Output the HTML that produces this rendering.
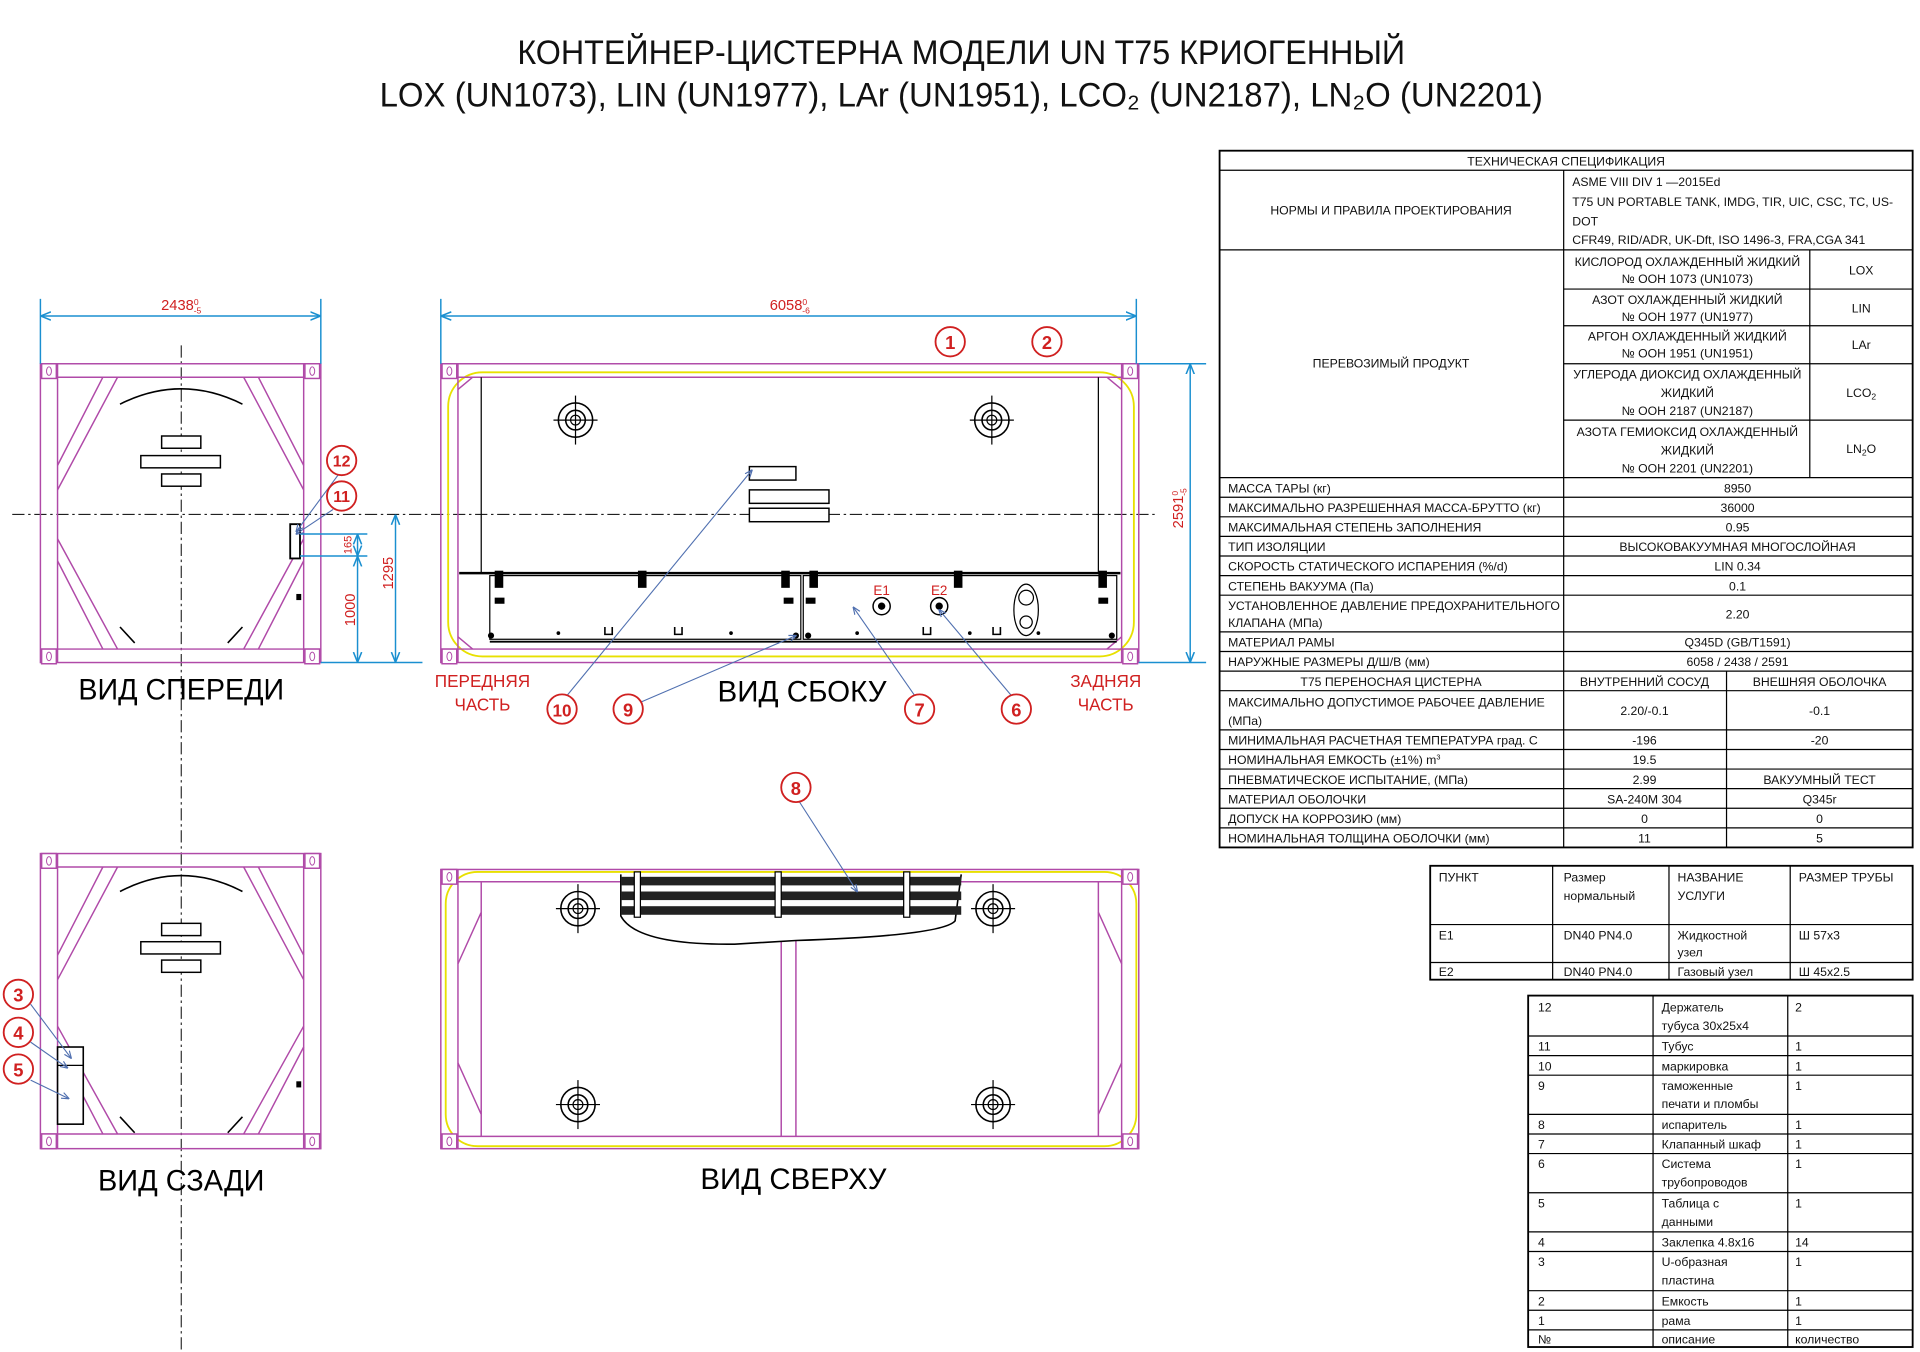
<!DOCTYPE html>
<html><head><meta charset="utf-8"><style>
html,body{margin:0;padding:0;background:#fff;}
svg{display:block;}
text{font-family:"Liberation Sans",sans-serif;}
</style></head><body>
<svg width="1920" height="1352" viewBox="0 0 1568 1104" xmlns="http://www.w3.org/2000/svg">
<defs>
<marker id="ab" viewBox="0 0 10 10" refX="9" refY="5" markerWidth="7" markerHeight="7" orient="auto-start-reverse"><path d="M0,1 L10,5 L0,9" fill="none" stroke="#1a8fd0" stroke-width="1.5"/></marker>
<marker id="ac" viewBox="0 0 10 10" refX="9" refY="5" markerWidth="7" markerHeight="7" orient="auto"><path d="M0,1 L10,5 L0,9" fill="none" stroke="#5070b0" stroke-width="1.5"/></marker>
<g id="corner"><rect x="-6" y="-6" width="12" height="12" fill="#fff" stroke="#b04aa8" stroke-width="1.2"/><ellipse cx="0" cy="0" rx="2" ry="3.5" fill="none" stroke="#b04aa8" stroke-width="0.8"/></g>
<g id="lift"><circle r="14" fill="none" stroke="#000" stroke-width="1.3"/><circle r="8" fill="none" stroke="#000" stroke-width="1.3"/><circle r="4" fill="none" stroke="#000"/><line x1="-18" y1="0" x2="18" y2="0" stroke="#000"/><line x1="0" y1="-20" x2="0" y2="20" stroke="#000"/></g>
<g id="cl"><circle r="12" fill="#fff" stroke="#d02020" stroke-width="1.5"/></g>
</defs>

<!-- Title -->
<text x="785" y="52" font-size="28" text-anchor="middle" textLength="725" lengthAdjust="spacingAndGlyphs" fill="#111">КОНТЕЙНЕР-ЦИСТЕРНА МОДЕЛИ UN T75 КРИОГЕННЫЙ</text>
<text x="785" y="87" font-size="28" text-anchor="middle" textLength="950" lengthAdjust="spacingAndGlyphs" fill="#111">LOX (UN1073), LIN (UN1977), LAr (UN1951), LCO₂ (UN2187), LN₂O (UN2201)</text>

<!-- center lines -->
<line x1="10" y1="420" x2="945" y2="420" stroke="#000" stroke-width="0.8" stroke-dasharray="10,3,2,3"/>
<line x1="148" y1="282" x2="148" y2="1104" stroke="#000" stroke-width="0.8" stroke-dasharray="10,3,2,3"/>

<!-- FRONT VIEW -->
<g stroke="#b04aa8" fill="none" stroke-width="1.2">
<rect x="33" y="297" width="229" height="244"/>
<line x1="33" y1="308" x2="262" y2="308"/><line x1="33" y1="530" x2="262" y2="530"/>
<line x1="47" y1="297" x2="47" y2="541"/><line x1="248" y1="297" x2="248" y2="541"/>
<path d="M47,380 L84,308 M47,400 L96,308 M248,380 L211,308 M248,400 L199,308"/>
<path d="M47,458 L84,530 M47,440 L96,530 M248,458 L211,530 M248,440 L199,530"/>
</g>
<path d="M98,330 Q148,305 198,330" stroke="#000" fill="none" stroke-width="1.3"/>
<path d="M98,512 L110,525 M198,512 L186,525" stroke="#000" fill="none" stroke-width="1.3"/>
<g stroke="#000" fill="#fff" stroke-width="1.2"><rect x="132" y="356" width="32" height="10"/><rect x="115" y="372" width="65" height="10"/><rect x="132" y="387" width="32" height="10"/></g>
<rect x="237" y="428" width="8" height="28" fill="#fff" stroke="#000" stroke-width="1.5"/>
<rect x="242" y="485" width="4" height="5" fill="#000"/>
<use href="#corner" x="40" y="303"/><use href="#corner" x="255" y="303"/><use href="#corner" x="40" y="536"/><use href="#corner" x="255" y="536"/>
<!-- front dims -->
<g stroke="#1a8fd0" stroke-width="1.2" fill="none">
<line x1="33" y1="244" x2="33" y2="297"/><line x1="262" y1="244" x2="262" y2="297"/>
<line x1="34" y1="258" x2="261" y2="258" marker-start="url(#ab)" marker-end="url(#ab)"/>
<line x1="245" y1="436" x2="300" y2="436"/><line x1="245" y1="454" x2="300" y2="454"/><line x1="262" y1="541" x2="345" y2="541"/>
<line x1="292" y1="437" x2="292" y2="453" marker-start="url(#ab)" marker-end="url(#ab)"/>
<line x1="292" y1="455" x2="292" y2="540" marker-start="url(#ab)" marker-end="url(#ab)"/>
<line x1="323" y1="421" x2="323" y2="540" marker-start="url(#ab)" marker-end="url(#ab)"/>
</g>
<text x="148" y="253" font-size="12" fill="#d02020" text-anchor="middle">2438<tspan font-size="7" dy="-4">0</tspan><tspan font-size="7" dx="-4" dy="7">-5</tspan></text>
<text transform="translate(287,445) rotate(-90)" font-size="9" fill="#d02020" text-anchor="middle">165</text>
<text transform="translate(290,498) rotate(-90)" font-size="12" fill="#d02020" text-anchor="middle">1000</text>
<text transform="translate(321,468) rotate(-90)" font-size="12" fill="#d02020" text-anchor="middle">1295</text>
<text x="148" y="571" font-size="24" text-anchor="middle" textLength="168" lengthAdjust="spacingAndGlyphs">ВИД СПЕРЕДИ</text>
<g stroke="#5070b0" stroke-width="0.9" fill="none"><line x1="276" y1="388" x2="242" y2="434" marker-end="url(#ac)"/><line x1="272" y1="416" x2="242" y2="436" marker-end="url(#ac)"/></g>
<use href="#cl" x="279" y="376"/><text x="279" y="381" font-size="13" font-weight="bold" fill="#d02020" text-anchor="middle">12</text>
<use href="#cl" x="279" y="405"/><text x="279" y="410" font-size="13" font-weight="bold" fill="#d02020" text-anchor="middle">11</text>

<!-- SIDE VIEW -->
<rect x="366" y="304" width="560" height="232" rx="28" fill="none" stroke="#e8e000" stroke-width="1.5"/>
<g stroke="#b04aa8" fill="none" stroke-width="1.2">
<rect x="360" y="297" width="570" height="244"/>
<line x1="360" y1="308" x2="930" y2="308"/><line x1="360" y1="530" x2="930" y2="530"/>
<line x1="374" y1="297" x2="374" y2="541"/><line x1="916" y1="297" x2="916" y2="541"/>
<path d="M374,318 L386,308 M916,318 L904,308 M374,520 L386,530 M916,520 L904,530"/>
</g>
<g stroke="#000" fill="none" stroke-width="1">
<line x1="393" y1="308" x2="393" y2="468"/><line x1="897" y1="308" x2="897" y2="468"/>
<line x1="375" y1="468" x2="915" y2="468" stroke-width="2"/>
<rect x="400" y="470" width="254" height="52"/><rect x="656" y="470" width="256" height="52"/>
<line x1="400" y1="524" x2="912" y2="524" stroke-width="1.5"/>
<ellipse cx="838" cy="498" rx="10" ry="21"/><circle cx="838" cy="488" r="6"/><circle cx="838" cy="508" r="5"/>
</g>
<g fill="#000">
<rect x="404" y="466" width="7" height="14"/><rect x="521" y="466" width="7" height="14"/><rect x="638" y="466" width="7" height="14"/><rect x="661" y="466" width="7" height="14"/><rect x="779" y="466" width="7" height="14"/><rect x="897" y="466" width="7" height="14"/>
<rect x="404" y="488" width="8" height="5"/><rect x="640" y="488" width="8" height="5"/><rect x="658" y="488" width="8" height="5"/><rect x="897" y="488" width="8" height="5"/>
<circle cx="401" cy="519" r="2.5"/><circle cx="650" cy="519" r="2.5"/><circle cx="660" cy="519" r="2.5"/><circle cx="908" cy="519" r="2.5"/>
<circle cx="456" cy="517" r="1.5"/><circle cx="597" cy="517" r="1.5"/><circle cx="700" cy="517" r="1.5"/><circle cx="792" cy="517" r="1.5"/><circle cx="848" cy="517" r="1.5"/>
</g>
<path d="M494,512 v6 h6 v-6 M551,512 v6 h6 v-6 M754,512 v6 h6 v-6 M811,512 v6 h6 v-6" stroke="#000" fill="none" stroke-width="1.3"/>
<circle cx="720" cy="495" r="7" fill="none" stroke="#000" stroke-width="1.2"/><circle cx="720" cy="495" r="3" fill="#000"/>
<circle cx="767" cy="495" r="7" fill="none" stroke="#000" stroke-width="1.2"/><circle cx="767" cy="495" r="3" fill="#000"/>
<text x="720" y="486" font-size="11" fill="#d02020" text-anchor="middle">E1</text>
<text x="767" y="486" font-size="11" fill="#d02020" text-anchor="middle">E2</text>
<use href="#lift" x="470" y="343"/><use href="#lift" x="810" y="343"/>
<g stroke="#000" fill="#fff" stroke-width="1.2"><rect x="612" y="381" width="38" height="11"/><rect x="612" y="400" width="65" height="11"/><rect x="612" y="415" width="65" height="11"/></g>
<use href="#corner" x="367" y="303"/><use href="#corner" x="923" y="303"/><use href="#corner" x="367" y="536"/><use href="#corner" x="923" y="536"/>
<g stroke="#1a8fd0" stroke-width="1.2" fill="none">
<line x1="360" y1="244" x2="360" y2="297"/><line x1="928" y1="244" x2="928" y2="297"/>
<line x1="361" y1="258" x2="927" y2="258" marker-start="url(#ab)" marker-end="url(#ab)"/>
<line x1="930" y1="297" x2="985" y2="297"/><line x1="930" y1="541" x2="985" y2="541"/>
<line x1="972" y1="298" x2="972" y2="540" marker-start="url(#ab)" marker-end="url(#ab)"/>
</g>
<text x="645" y="253" font-size="12" fill="#d02020" text-anchor="middle">6058<tspan font-size="7" dy="-4">0</tspan><tspan font-size="7" dx="-4" dy="7">-6</tspan></text>
<text transform="translate(966,415) rotate(-90)" font-size="12" fill="#d02020" text-anchor="middle">2591<tspan font-size="7" dy="-4">0</tspan><tspan font-size="7" dx="-4" dy="7">-5</tspan></text>
<use href="#cl" x="776" y="279"/><text x="776" y="285" font-size="15" font-weight="bold" fill="#d02020" text-anchor="middle">1</text>
<use href="#cl" x="855" y="279"/><text x="855" y="285" font-size="15" font-weight="bold" fill="#d02020" text-anchor="middle">2</text>
<g stroke="#5070b0" stroke-width="0.9" fill="none">
<line x1="463" y1="568" x2="614" y2="384" marker-end="url(#ac)"/>
<line x1="524" y1="573" x2="650" y2="519" marker-end="url(#ac)"/>
<line x1="747" y1="568" x2="697" y2="496" marker-end="url(#ac)"/>
<line x1="826" y1="568" x2="767" y2="498" marker-end="url(#ac)"/>
</g>
<use href="#cl" x="459" y="579"/><text x="459" y="585" font-size="14" font-weight="bold" fill="#d02020" text-anchor="middle">10</text>
<use href="#cl" x="513" y="579"/><text x="513" y="585" font-size="15" font-weight="bold" fill="#d02020" text-anchor="middle">9</text>
<use href="#cl" x="751" y="579"/><text x="751" y="585" font-size="15" font-weight="bold" fill="#d02020" text-anchor="middle">7</text>
<use href="#cl" x="830" y="579"/><text x="830" y="585" font-size="15" font-weight="bold" fill="#d02020" text-anchor="middle">6</text>
<text x="394" y="561" font-size="14" fill="#d02020" text-anchor="middle">ПЕРЕДНЯЯ</text>
<text x="394" y="580" font-size="14" fill="#d02020" text-anchor="middle">ЧАСТЬ</text>
<text x="903" y="561" font-size="14" fill="#d02020" text-anchor="middle">ЗАДНЯЯ</text>
<text x="903" y="580" font-size="14" fill="#d02020" text-anchor="middle">ЧАСТЬ</text>
<text x="655" y="573" font-size="24" text-anchor="middle" textLength="138" lengthAdjust="spacingAndGlyphs">ВИД СБОКУ</text>

<!-- REAR VIEW -->
<g stroke="#b04aa8" fill="none" stroke-width="1.2">
<rect x="33" y="697" width="229" height="241"/>
<line x1="33" y1="708" x2="262" y2="708"/><line x1="33" y1="926" x2="262" y2="926"/>
<line x1="47" y1="697" x2="47" y2="938"/><line x1="248" y1="697" x2="248" y2="938"/>
<path d="M47,780 L84,708 M47,800 L96,708 M248,780 L211,708 M248,800 L199,708"/>
<path d="M47,855 L84,926 M47,838 L96,926 M248,855 L211,926 M248,838 L199,926"/>
</g>
<path d="M98,728 Q148,702 198,728" stroke="#000" fill="none" stroke-width="1.3"/>
<path d="M98,912 L110,925 M198,912 L186,925" stroke="#000" fill="none" stroke-width="1.3"/>
<g stroke="#000" fill="#fff" stroke-width="1.2"><rect x="132" y="754" width="32" height="10"/><rect x="115" y="769" width="65" height="10"/><rect x="132" y="784" width="32" height="10"/></g>
<rect x="47" y="855" width="21" height="63" fill="#fff" stroke="#000" stroke-width="1.3"/><line x1="47" y1="870" x2="68" y2="870" stroke="#000"/>
<rect x="242" y="883" width="4" height="5" fill="#000"/>
<use href="#corner" x="40" y="703"/><use href="#corner" x="255" y="703"/><use href="#corner" x="40" y="932"/><use href="#corner" x="255" y="932"/>
<g stroke="#5070b0" stroke-width="0.9" fill="none">
<line x1="25" y1="820" x2="58" y2="864" marker-end="url(#ac)"/>
<line x1="25" y1="851" x2="55" y2="872" marker-end="url(#ac)"/>
<line x1="25" y1="882" x2="56" y2="897" marker-end="url(#ac)"/>
</g>
<use href="#cl" x="15" y="812"/><text x="15" y="818" font-size="15" font-weight="bold" fill="#d02020" text-anchor="middle">3</text>
<use href="#cl" x="15" y="843"/><text x="15" y="849" font-size="15" font-weight="bold" fill="#d02020" text-anchor="middle">4</text>
<use href="#cl" x="15" y="873"/><text x="15" y="879" font-size="15" font-weight="bold" fill="#d02020" text-anchor="middle">5</text>
<text x="148" y="972" font-size="24" text-anchor="middle" textLength="136" lengthAdjust="spacingAndGlyphs">ВИД СЗАДИ</text>

<!-- TOP VIEW -->
<rect x="364" y="712" width="564" height="224" rx="26" fill="none" stroke="#e8e000" stroke-width="1.5"/>
<g stroke="#b04aa8" fill="none" stroke-width="1.2">
<rect x="360" y="710" width="570" height="228"/>
<line x1="360" y1="720" x2="930" y2="720"/><line x1="360" y1="928" x2="930" y2="928"/>
<line x1="374" y1="710" x2="374" y2="938"/><line x1="916" y1="710" x2="916" y2="938"/>
<line x1="393" y1="720" x2="393" y2="928"/><line x1="897" y1="720" x2="897" y2="928"/>
<line x1="374" y1="787" x2="393" y2="745"/><line x1="916" y1="787" x2="897" y2="745"/>
<line x1="374" y1="868" x2="393" y2="910"/><line x1="916" y1="868" x2="897" y2="910"/>
<line x1="638" y1="768" x2="638" y2="928"/><line x1="650" y1="768" x2="650" y2="928"/>
</g>
<path d="M507,714 L507,748 Q520,772 600,771 L650,768 Q770,764 780,752 L785,714" fill="#fff" stroke="#000" stroke-width="1.3"/>
<g fill="#222"><rect x="507" y="716" width="278" height="7"/><rect x="507" y="728" width="278" height="7"/><rect x="507" y="740" width="278" height="7"/></g>
<g fill="#fff" stroke="#000"><rect x="518" y="712" width="5" height="37"/><rect x="633" y="712" width="5" height="37"/><rect x="738" y="712" width="5" height="37"/></g>
<use href="#lift" x="472" y="742"/><use href="#lift" x="811" y="742"/><use href="#lift" x="472" y="902"/><use href="#lift" x="811" y="902"/>
<use href="#corner" x="367" y="716"/><use href="#corner" x="923" y="716"/><use href="#corner" x="367" y="932"/><use href="#corner" x="923" y="932"/>
<line x1="653" y1="655" x2="700" y2="728" stroke="#5070b0" stroke-width="0.9" marker-end="url(#ac)"/>
<use href="#cl" x="650" y="643"/><text x="650" y="649" font-size="15" font-weight="bold" fill="#d02020" text-anchor="middle">8</text>
<text x="648" y="971" font-size="24" text-anchor="middle" textLength="152" lengthAdjust="spacingAndGlyphs">ВИД СВЕРХУ</text>

<!-- SPEC TABLE -->
<g font-size="10" fill="#111">
<g stroke="#000" stroke-width="1" fill="none">
<rect x="996" y="123" width="566" height="569" stroke-width="1.5"/>
<line x1="996" y1="139" x2="1562" y2="139"/><line x1="996" y1="204" x2="1562" y2="204"/>
<line x1="1277" y1="139" x2="1277" y2="692"/>
<line x1="1478" y1="204" x2="1478" y2="390"/>
<line x1="1277" y1="236" x2="1562" y2="236"/><line x1="1277" y1="266" x2="1562" y2="266"/><line x1="1277" y1="297" x2="1562" y2="297"/><line x1="1277" y1="343" x2="1562" y2="343"/>
<path d="M996,390 H1562 M996,406 H1562 M996,422 H1562 M996,438 H1562 M996,454 H1562 M996,470 H1562 M996,486 H1562 M996,516 H1562 M996,532 H1562 M996,548 H1562 M996,564 H1562 M996,596 H1562 M996,612 H1562 M996,628 H1562 M996,644 H1562 M996,660 H1562 M996,676 H1562"/>
<line x1="1410" y1="548" x2="1410" y2="692"/>
</g>
<text x="1279" y="135" text-anchor="middle">ТЕХНИЧЕСКАЯ СПЕЦИФИКАЦИЯ</text>
<text x="1136" y="175" text-anchor="middle">НОРМЫ И ПРАВИЛА ПРОЕКТИРОВАНИЯ</text>
<text x="1284" y="152">ASME VIII DIV 1 —2015Ed</text>
<text x="1284" y="168">T75 UN PORTABLE TANK, IMDG, TIR, UIC, CSC, TC, US-</text>
<text x="1284" y="184">DOT</text>
<text x="1284" y="199">CFR49, RID/ADR, UK-Dft, ISO 1496-3, FRA,CGA 341</text>
<text x="1136" y="300" text-anchor="middle">ПЕРЕВОЗИМЫЙ ПРОДУКТ</text>
<g text-anchor="middle">
<text x="1378" y="217">КИСЛОРОД ОХЛАЖДЕННЫЙ ЖИДКИЙ</text><text x="1378" y="231">№ ООН 1073 (UN1073)</text>
<text x="1378" y="248">АЗОТ ОХЛАЖДЕННЫЙ ЖИДКИЙ</text><text x="1378" y="262">№ ООН 1977 (UN1977)</text>
<text x="1378" y="278">АРГОН ОХЛАЖДЕННЫЙ ЖИДКИЙ</text><text x="1378" y="292">№ ООН 1951 (UN1951)</text>
<text x="1378" y="309">УГЛЕРОДА ДИОКСИД ОХЛАЖДЕННЫЙ</text><text x="1378" y="324">ЖИДКИЙ</text><text x="1378" y="339">№ ООН 2187 (UN2187)</text>
<text x="1378" y="356">АЗОТА ГЕМИОКСИД ОХЛАЖДЕННЫЙ</text><text x="1378" y="371">ЖИДКИЙ</text><text x="1378" y="386">№ ООН 2201 (UN2201)</text>
<text x="1520" y="224">LOX</text><text x="1520" y="255">LIN</text><text x="1520" y="285">LAr</text><text x="1520" y="324">LCO<tspan font-size="7" dy="2">2</tspan></text><text x="1520" y="370">LN<tspan font-size="7" dy="2">2</tspan><tspan dy="-2">O</tspan></text>
<text x="1419" y="402">8950</text><text x="1419" y="418">36000</text><text x="1419" y="434">0.95</text><text x="1419" y="450">ВЫСОКОВАКУУМНАЯ МНОГОСЛОЙНАЯ</text><text x="1419" y="466">LIN  0.34</text><text x="1419" y="482">0.1</text><text x="1419" y="505">2.20</text><text x="1419" y="528">Q345D (GB/T1591)</text><text x="1419" y="544">6058 / 2438 / 2591</text>
<text x="1136" y="560">T75 ПЕРЕНОСНАЯ ЦИСТЕРНА</text><text x="1343" y="560">ВНУТРЕННИЙ СОСУД</text><text x="1486" y="560">ВНЕШНЯЯ ОБОЛОЧКА</text>
<text x="1343" y="584">2.20/-0.1</text><text x="1486" y="584">-0.1</text>
<text x="1343" y="608">-196</text><text x="1486" y="608">-20</text>
<text x="1343" y="624">19.5</text>
<text x="1343" y="640">2.99</text><text x="1486" y="640">ВАКУУМНЫЙ ТЕСТ</text>
<text x="1343" y="656">SA-240M 304</text><text x="1486" y="656">Q345r</text>
<text x="1343" y="672">0</text><text x="1486" y="672">0</text>
<text x="1343" y="688">11</text><text x="1486" y="688">5</text>
</g>
<text x="1003" y="402">МАССА ТАРЫ (кг)</text>
<text x="1003" y="418">МАКСИМАЛЬНО РАЗРЕШЕННАЯ МАССА-БРУТТО (кг)</text>
<text x="1003" y="434">МАКСИМАЛЬНАЯ СТЕПЕНЬ ЗАПОЛНЕНИЯ</text>
<text x="1003" y="450">ТИП ИЗОЛЯЦИИ</text>
<text x="1003" y="466">СКОРОСТЬ СТАТИЧЕСКОГО ИСПАРЕНИЯ (%/d)</text>
<text x="1003" y="482">СТЕПЕНЬ ВАКУУМА (Па)</text>
<text x="1003" y="498">УСТАНОВЛЕННОЕ ДАВЛЕНИЕ ПРЕДОХРАНИТЕЛЬНОГО</text>
<text x="1003" y="512">КЛАПАНА (МПа)</text>
<text x="1003" y="528">МАТЕРИАЛ РАМЫ</text>
<text x="1003" y="544">НАРУЖНЫЕ РАЗМЕРЫ Д/Ш/В (мм)</text>
<text x="1003" y="577">МАКСИМАЛЬНО ДОПУСТИМОЕ РАБОЧЕЕ ДАВЛЕНИЕ</text>
<text x="1003" y="592">(МПа)</text>
<text x="1003" y="608">МИНИМАЛЬНАЯ РАСЧЕТНАЯ ТЕМПЕРАТУРА град. С</text>
<text x="1003" y="624">НОМИНАЛЬНАЯ ЕМКОСТЬ (±1%) m<tspan font-size="6" dy="-4">3</tspan></text>
<text x="1003" y="640">ПНЕВМАТИЧЕСКОЕ ИСПЫТАНИЕ, (МПа)</text>
<text x="1003" y="656">МАТЕРИАЛ ОБОЛОЧКИ</text>
<text x="1003" y="672">ДОПУСК НА КОРРОЗИЮ (мм)</text>
<text x="1003" y="688">НОМИНАЛЬНАЯ ТОЛЩИНА ОБОЛОЧКИ (мм)</text>
</g>

<!-- PIPE TABLE -->
<g font-size="10" fill="#111">
<g stroke="#000" fill="none"><rect x="1168" y="707" width="394" height="93" stroke-width="1.5"/>
<path d="M1168,755 H1562 M1168,786 H1562 M1268,707 V800 M1363,707 V800 M1462,707 V800"/></g>
<text x="1175" y="720">ПУНКТ</text><text x="1277" y="720">Размер</text><text x="1277" y="735">нормальный</text><text x="1370" y="720">НАЗВАНИЕ</text><text x="1370" y="735">УСЛУГИ</text><text x="1469" y="720">РАЗМЕР ТРУБЫ</text>
<text x="1175" y="767">E1</text><text x="1277" y="767">DN40  PN4.0</text><text x="1370" y="767">Жидкостной</text><text x="1370" y="781">узел</text><text x="1469" y="767">Ш 57x3</text>
<text x="1175" y="797">E2</text><text x="1277" y="797">DN40  PN4.0</text><text x="1370" y="797">Газовый узел</text><text x="1469" y="797">Ш 45x2.5</text>
</g>

<!-- PARTS TABLE -->
<g font-size="10" fill="#111">
<g stroke="#000" fill="none"><rect x="1248" y="813" width="314" height="287" stroke-width="1.5"/>
<path d="M1248,846 H1562 M1248,862 H1562 M1248,878 H1562 M1248,910 H1562 M1248,926 H1562 M1248,942 H1562 M1248,974 H1562 M1248,1006 H1562 M1248,1022 H1562 M1248,1054 H1562 M1248,1070 H1562 M1248,1086 H1562 M1350,813 V1100 M1460,813 V1100"/></g>
<g>
<text x="1256" y="826">12</text><text x="1357" y="826">Держатель</text><text x="1357" y="841">тубуса 30x25x4</text><text x="1466" y="826">2</text>
<text x="1256" y="858">11</text><text x="1357" y="858">Тубус</text><text x="1466" y="858">1</text>
<text x="1256" y="874">10</text><text x="1357" y="874">маркировка</text><text x="1466" y="874">1</text>
<text x="1256" y="890">9</text><text x="1357" y="890">таможенные</text><text x="1357" y="905">печати и пломбы</text><text x="1466" y="890">1</text>
<text x="1256" y="922">8</text><text x="1357" y="922">испаритель</text><text x="1466" y="922">1</text>
<text x="1256" y="938">7</text><text x="1357" y="938">Клапанный шкаф</text><text x="1466" y="938">1</text>
<text x="1256" y="954">6</text><text x="1357" y="954">Система</text><text x="1357" y="969">трубопроводов</text><text x="1466" y="954">1</text>
<text x="1256" y="986">5</text><text x="1357" y="986">Таблица с</text><text x="1357" y="1001">данными</text><text x="1466" y="986">1</text>
<text x="1256" y="1018">4</text><text x="1357" y="1018">Заклепка 4.8x16</text><text x="1466" y="1018">14</text>
<text x="1256" y="1034">3</text><text x="1357" y="1034">U-образная</text><text x="1357" y="1049">пластина</text><text x="1466" y="1034">1</text>
<text x="1256" y="1066">2</text><text x="1357" y="1066">Емкость</text><text x="1466" y="1066">1</text>
<text x="1256" y="1082">1</text><text x="1357" y="1082">рама</text><text x="1466" y="1082">1</text>
<text x="1256" y="1097">№</text><text x="1357" y="1097">описание</text><text x="1466" y="1097">количество</text>
</g>
</g>
</svg>
</body></html>
